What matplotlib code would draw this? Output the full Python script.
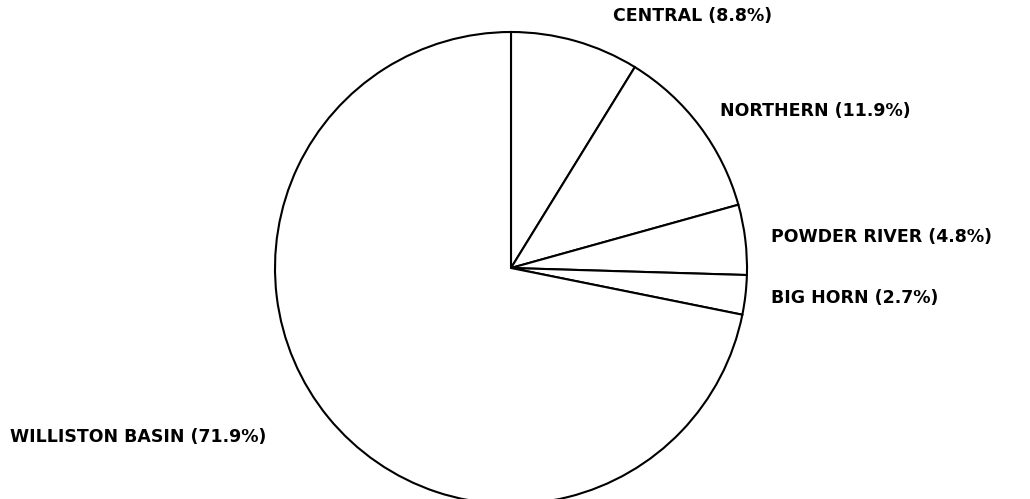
import matplotlib.pyplot as plt

regions = ["CENTRAL", "NORTHERN", "POWDER RIVER", "BIG HORN", "WILLISTON BASIN"]
shares = [8.8, 11.9, 4.8, 2.7, 71.9]

# label anchor (left x, centre y) in pixels from top-left
label_pos = [(613, 16), (720, 111), (771, 237), (771, 298), (10, 437)]

W, H = 1030, 499
fig = plt.figure(figsize=(W / 100, H / 100), dpi=100)
ax = fig.add_axes([0, 0, 1, 1])

ax.pie(
    shares,
    startangle=90,
    counterclock=False,
    center=(511, H - 268),
    radius=236,
    colors=["white"] * len(shares),
    wedgeprops=dict(edgecolor="black", linewidth=1.5),
    frame=True,
)
ax.set_xlim(0, W)
ax.set_ylim(0, H)
ax.set_aspect("equal")
ax.axis("off")

for name, val, (x, y) in zip(regions, shares, label_pos):
    ax.text(x, H - y, f"{name} ({val:.1f}%)", ha="left", va="center",
            fontsize=12.5, fontweight="bold", family="DejaVu Sans")

fig.savefig("out.png", dpi=100)
